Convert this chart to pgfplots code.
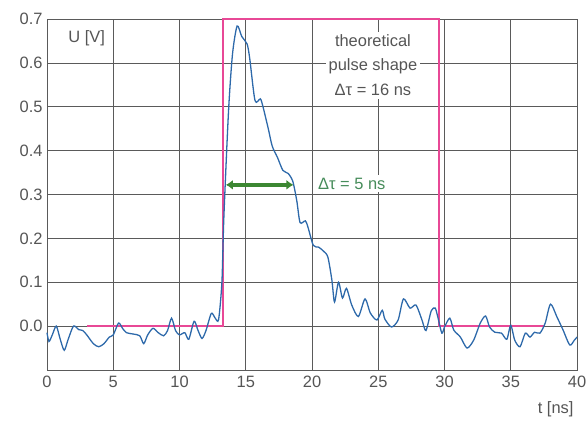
\documentclass[border=0pt]{standalone}
\usepackage{fontspec}
\setmainfont{Liberation Sans}
\usepackage{pgfplots}
\pgfplotsset{compat=1.18}
\usetikzlibrary{arrows.meta}
\definecolor{pinkline}{RGB}{232,72,150}
\definecolor{bluecurve}{RGB}{45,105,170}
\definecolor{greenarr}{RGB}{60,135,50}
\definecolor{greentext}{RGB}{70,140,90}
\definecolor{gridc}{RGB}{90,90,90}
\definecolor{labc}{RGB}{85,85,85}
\newcommand{\lfont}{\fontsize{16.5}{22}\selectfont}
\begin{document}
\begin{tikzpicture}
\begin{axis}[
  name=ax,
  scale only axis,
  width=530bp, height=351bp,
  xmin=0, xmax=40, ymin=-0.1, ymax=0.7,
  xtick={0,5,...,40},
  ytick={0,0.1,...,0.7},
  grid=major,
  major grid style={gridc, line width=0.7pt},
  axis line style={gridc, line width=0.7pt},
  major tick length=0pt,
  tick label style={labc, font=\lfont},
  /pgf/number format/assume math mode=true,
  yticklabel style={/pgf/number format/fixed, /pgf/number format/fixed zerofill, /pgf/number format/precision=1},
  xticklabel style={yshift=-3bp},
  yticklabel style={xshift=-1bp},
  clip=false,
]
\addplot[pinkline, line width=2.2pt, sharp plot] coordinates {
(3,0) (13.3,0) (13.3,0.7) (29.6,0.7) (29.6,0) (37.5,0)
};
\addplot[bluecurve, line width=1.3pt, smooth, tension=0.45] coordinates {
(0,-0.015) (0.15,-0.035) (0.4,-0.02) (0.7,0.0) (1.0,-0.03) (1.3,-0.055)
(1.6,-0.03) (2.0,0.0) (2.4,-0.008) (2.7,-0.01) (3.0,-0.02) (3.5,-0.04)
(3.9,-0.047) (4.3,-0.04) (4.7,-0.025) (5.0,-0.02) (5.4,0.007) (5.7,-0.005)
(6.0,-0.015) (6.5,-0.018) (7.0,-0.022) (7.3,-0.04) (7.6,-0.02) (8.0,-0.005)
(8.4,-0.015) (8.8,-0.022) (9.1,-0.01) (9.4,0.018) (9.7,-0.01) (10.0,-0.02)
(10.4,-0.015) (10.7,-0.03) (11.1,0.011) (11.4,-0.01) (11.7,-0.028) (12.0,-0.01)
(12.4,0.029) (12.7,0.018) (12.95,0.015) (13.2,0.1) (13.35,0.25) (13.7,0.49)
(14.0,0.62) (14.35,0.684) (14.7,0.66) (15.1,0.643) (15.3,0.61) (15.7,0.514)
(16.1,0.518) (16.3,0.50) (16.7,0.45) (17.0,0.41) (17.4,0.384) (17.8,0.355)
(18.2,0.348) (18.55,0.33) (18.85,0.286) (19.1,0.236) (19.5,0.24) (19.7,0.225)
(20.1,0.184) (20.5,0.18) (20.9,0.17) (21.2,0.157) (21.5,0.105) (21.7,0.055)
(22.0,0.1) (22.3,0.064) (22.6,0.086) (23.0,0.048) (23.5,0.022) (24.0,0.062)
(24.4,0.03) (24.9,0.014) (25.3,0.036) (25.5,0.016) (26.0,-0.002) (26.5,0.014)
(26.9,0.062) (27.4,0.041) (27.85,0.048) (28.3,0.014) (28.6,-0.01) (29.0,0.035)
(29.3,0.041) (29.5,0.02) (29.8,-0.016) (30.0,-0.002) (30.4,0.018) (30.7,-0.009)
(31.2,-0.025) (31.7,-0.05) (32.2,-0.032) (32.7,0.007) (33.1,0.023) (33.4,-0.002)
(33.8,-0.014) (34.3,-0.016) (34.7,-0.03) (35.0,0.002) (35.3,-0.032) (35.7,-0.047)
(36.1,-0.016) (36.45,-0.025) (36.8,-0.014) (37.2,-0.016) (37.6,0.007) (38.0,0.05)
(38.5,0.02) (38.95,-0.009) (39.45,-0.043) (39.8,-0.032) (40.0,-0.025)
};
\addplot[greenarr, line width=3.4pt, {Latex[length=7bp,width=10bp]}-{Latex[length=7bp,width=10bp]}] coordinates {(13.5,0.322) (18.6,0.322)};
\node[fill=white, text=greentext, font=\lfont, inner sep=3bp] at (axis cs:23.0,0.325) {Δτ = 5 ns};
\node[fill=white, text=labc, font=\fontsize{16.5}{24.5}\selectfont, align=center, inner sep=3bp] at (axis cs:24.6,0.595) {theoretical\\pulse shape\\Δτ = 16 ns};
\node[fill=white, text=labc, font=\lfont, inner sep=3bp] at (axis cs:3.0,0.655) {U [V]};
\end{axis}
\node[text=labc, font=\lfont, anchor=east] at ([xshift=0bp,yshift=-39bp]ax.south east) {t [ns]};
\pgfresetboundingbox
\path[use as bounding box] ([xshift=-47bp,yshift=-53bp]ax.south west) rectangle ([xshift=10bp,yshift=19bp]ax.north east);
\end{tikzpicture}
\end{document}
